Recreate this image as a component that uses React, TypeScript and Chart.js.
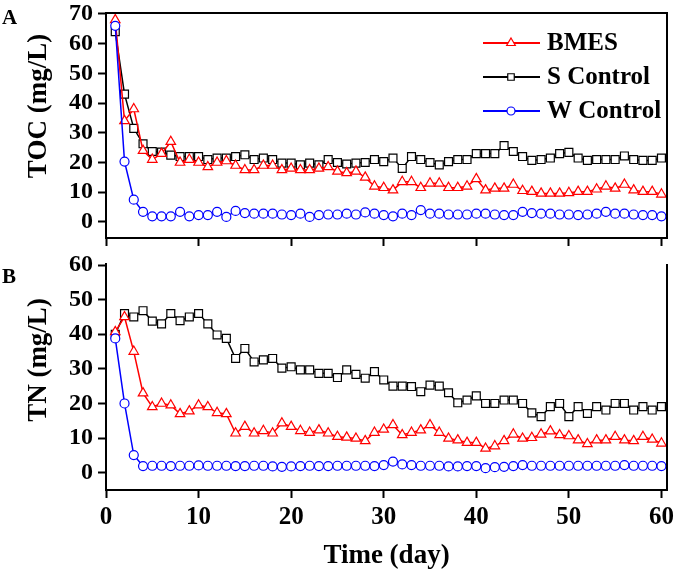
import React, { useEffect, useRef } from 'react';
import { Chart, registerables } from 'chart.js';

Chart.register(...registerables);

const days = [1, 2, 3, 4, 5, 6, 7, 8, 9, 10, 11, 12, 13, 14, 15, 16, 17, 18, 19, 20, 21, 22, 23, 24, 25, 26, 27, 28, 29, 30, 31, 32, 33, 34, 35, 36, 37, 38, 39, 40, 41, 42, 43, 44, 45, 46, 47, 48, 49, 50, 51, 52, 53, 54, 55, 56, 57, 58, 59, 60];

const tocBMES = [68, 34, 38, 24, 21, 23, 27, 20, 21, 20, 18.5, 20, 20.5, 19, 17.5, 17.5, 19, 19, 17.5, 18, 17.5, 17.5, 18, 18.5, 17, 16.5, 17, 15, 12, 11.5, 10.7, 13.5, 13.5, 11.5, 13, 13, 11.5, 11.5, 12, 14.5, 10.7, 11.3, 11.3, 12.6, 10.5, 10.2, 9.6, 9.6, 9.6, 9.8, 10.2, 10.2, 11, 12, 11.3, 12.6, 10.7, 10.2, 10.2, 9.3];
const tocSControl = [64, 43, 31.5, 26.3, 23.7, 23.5, 22.5, 22, 22, 22, 21, 21.5, 21.5, 22, 22.6, 21, 21.5, 21, 19.8, 19.8, 19.2, 19.8, 19.2, 21, 20, 19.5, 19.8, 20, 21, 20.3, 21.5, 18, 22, 21, 20, 19.2, 20.3, 21, 21, 23, 23, 23, 25.7, 23.7, 22, 20.7, 21, 21.5, 23, 23.4, 21.5, 20.7, 21, 21, 21, 22.2, 21, 20.7, 20.7, 21.5];
const tocWControl = [66, 20.3, 7.5, 3.4, 1.9, 1.9, 1.9, 3.4, 1.9, 2.3, 2.3, 3.4, 1.7, 3.7, 3, 2.8, 2.8, 2.8, 2.5, 2.3, 2.8, 1.7, 2.3, 2.5, 2.5, 2.8, 2.5, 3.2, 2.8, 2.3, 1.9, 2.8, 2.3, 4, 2.8, 2.8, 2.5, 2.5, 2.5, 2.8, 2.8, 2.5, 2.3, 2.3, 3.4, 3, 2.8, 2.8, 2.5, 2.5, 2.3, 2.5, 2.8, 3.4, 2.8, 2.8, 2.5, 2.3, 2.3, 1.9];

const tnBMES = [40.7, 45, 35, 23, 19, 20, 19.5, 17, 17.8, 19.5, 19, 17.3, 17, 11.4, 13.3, 11.4, 12.1, 11.4, 14.3, 13.3, 12.1, 11.6, 12.3, 11.4, 10.4, 10.2, 9.9, 9.2, 11.6, 12.5, 13.8, 10.9, 11.6, 12.3, 13.8, 11.6, 9.9, 9.4, 8.7, 8.7, 7, 7.7, 9.2, 11.1, 9.9, 10.1, 11.1, 12, 10.9, 10.6, 9.4, 8.3, 9.4, 9.4, 10.4, 9.4, 9.2, 10.4, 9.6, 8.5];
const tnSControl = [40, 46, 45, 46.8, 43.8, 43, 46, 43.9, 45, 46, 43, 39.8, 38.8, 33, 35.9, 32, 32.6, 33, 30.2, 30.6, 29.7, 29.7, 28.7, 28.7, 27.5, 29.7, 28.4, 27.3, 29.2, 26.8, 25, 25, 24.9, 23.4, 25.3, 25, 23.1, 20.2, 21, 22.2, 20, 20, 21, 21, 20, 17.3, 16.2, 19.1, 20, 16.2, 19.1, 17.1, 19.1, 18.1, 20, 20, 18.1, 19.1, 18.1, 19.1];
const tnWControl = [38.8, 20, 5.1, 1.9, 2, 2, 1.9, 2, 2, 2.1, 2, 2, 2, 1.9, 1.9, 2, 2, 1.8, 1.7, 1.8, 1.9, 2, 1.9, 1.9, 2, 2, 2, 2, 1.9, 2.2, 3.2, 2.4, 2.2, 2, 2, 2, 1.8, 1.8, 1.9, 1.9, 1.3, 1.6, 1.7, 1.9, 2.2, 2, 2, 2, 2, 2, 2, 2, 2, 2, 2, 2.2, 2, 2, 2, 1.9];

const xTicks = [0, 10, 20, 30, 40, 50, 60];
const tocTicks = [0, 10, 20, 30, 40, 50, 60, 70];
const tnTicks = [0, 10, 20, 30, 40, 50, 60];

const seriesNames = ['BMES', 'S Control', 'W Control'];
const seriesColors = ['#ff0000', '#000000', '#0000ff'];
const seriesStyles = ['triangle', 'rect', 'circle'];
const seriesRadius = [5.5, 5.6, 4.5];
const seriesOrder = [1, 2, 0];

const FONT = "'Liberation Serif', 'Times New Roman', serif";

function makeDatasets(values: number[][]) {
  return values.map((vals, i) => ({
    label: seriesNames[i],
    data: days.map((d, j) => ({ x: d, y: vals[j] })),
    borderColor: seriesColors[i],
    backgroundColor: '#ffffff',
    borderWidth: 1.5,
    pointStyle: seriesStyles[i],
    pointRadius: seriesRadius[i],
    pointBorderWidth: 1.2,
    pointBorderColor: seriesColors[i],
    pointBackgroundColor: '#ffffff',
    order: seriesOrder[i],
    tension: 0,
  }));
}

function drawMarker(ctx: CanvasRenderingContext2D, style: string, x: number, y: number, r: number) {
  ctx.beginPath();
  if (style === 'triangle') {
    for (let k = 0; k < 3; k++) {
      const a = (k * 2 * Math.PI) / 3;
      const px = x + Math.sin(a) * r;
      const py = y - Math.cos(a) * r;
      if (k === 0) ctx.moveTo(px, py);
      else ctx.lineTo(px, py);
    }
    ctx.closePath();
  } else if (style === 'rect') {
    const s = r * Math.SQRT1_2;
    ctx.rect(x - s, y - s, 2 * s, 2 * s);
  } else {
    ctx.arc(x, y, r, 0, Math.PI * 2);
  }
  ctx.fill();
  ctx.stroke();
}

function overlayPlugin(cfg: { letter: string; letterY: number; yTitle: string; yTitleY: number; topBorder: boolean; legend: boolean }) {
  return {
    id: 'overlay',
    afterDraw(chart: any) {
      const ctx: CanvasRenderingContext2D = chart.ctx;
      const ca = chart.chartArea;
      ctx.save();
      ctx.strokeStyle = '#000';
      ctx.lineWidth = 2;
      ctx.beginPath();
      if (cfg.topBorder) {
        ctx.moveTo(ca.left - 1, ca.top);
        ctx.lineTo(ca.right, ca.top);
      }
      ctx.moveTo(ca.right, ca.top - (cfg.topBorder ? 1 : 0));
      ctx.lineTo(ca.right, ca.bottom);
      ctx.stroke();

      ctx.fillStyle = '#000';
      ctx.font = `bold 21px ${FONT}`;
      ctx.textAlign = 'left';
      ctx.textBaseline = 'alphabetic';
      ctx.fillText(cfg.letter, 2, cfg.letterY);

      ctx.save();
      ctx.translate(39, cfg.yTitleY);
      ctx.rotate(-Math.PI / 2);
      ctx.font = `bold 27px ${FONT}`;
      ctx.textAlign = 'center';
      ctx.textBaseline = 'middle';
      ctx.fillText(cfg.yTitle, 0, 0);
      ctx.restore();

      if (cfg.legend) {
        const rows = [43, 77, 111];
        const legendR = [5, 4.6, 4];
        seriesNames.forEach((name, i) => {
          const y = rows[i];
          ctx.strokeStyle = seriesColors[i];
          ctx.lineWidth = 1.8;
          ctx.beginPath();
          ctx.moveTo(483, y);
          ctx.lineTo(540, y);
          ctx.stroke();
          ctx.fillStyle = '#fff';
          ctx.lineWidth = 1.2;
          drawMarker(ctx, seriesStyles[i], 511, y, legendR[i]);
          ctx.fillStyle = '#000';
          ctx.font = `bold 25px ${FONT}`;
          ctx.textAlign = 'left';
          ctx.textBaseline = 'middle';
          ctx.fillText(name, 547, y + 1);
        });
      }
      ctx.restore();
    },
  };
}

function xScale(showLabels: boolean, height: number, titleText: string) {
  return {
    type: 'linear' as const,
    min: 0,
    max: 60.6,
    bounds: 'data' as const,
    afterBuildTicks: (s: any) => {
      s.ticks = xTicks.map((v) => ({ value: v }));
    },
    afterFit: (s: any) => {
      s.height = height;
      s.paddingLeft = 0;
      s.paddingRight = 0;
    },
    grid: { display: true, drawOnChartArea: false, drawTicks: true, tickLength: 8, tickWidth: 2, tickColor: '#000' },
    border: { display: true, color: '#000', width: 2 },
    ticks: {
      display: showLabels,
      color: '#000',
      font: { family: FONT, size: 25, weight: 'bold' as const },
      padding: 5,
      maxRotation: 0,
      autoSkip: false,
    },
    title: {
      display: titleText !== '',
      text: titleText,
      color: '#000',
      font: { family: FONT, size: 27, weight: 'bold' as const },
      padding: { top: 5, bottom: 5 },
    },
  };
}

function yScale(min: number, max: number, tickVals: number[]) {
  return {
    type: 'linear' as const,
    min,
    max,
    bounds: 'data' as const,
    afterBuildTicks: (s: any) => {
      s.ticks = tickVals.map((v) => ({ value: v }));
    },
    afterFit: (s: any) => {
      s.width = 106;
      s.paddingTop = 0;
      s.paddingBottom = 0;
    },
    grid: { display: true, drawOnChartArea: false, drawTicks: true, tickLength: 8, tickWidth: 2, tickColor: '#000' },
    border: { display: true, color: '#000', width: 2 },
    ticks: {
      color: '#000',
      font: { family: FONT, size: 24, weight: 'bold' as const },
      padding: 5,
      autoSkip: false,
    },
  };
}

export default function App() {
  const refA = useRef<HTMLCanvasElement>(null);
  const refB = useRef<HTMLCanvasElement>(null);

  useEffect(() => {
    const chartA = new Chart(refA.current as HTMLCanvasElement, {
      type: 'line',
      data: { datasets: makeDatasets([tocBMES, tocSControl, tocWControl]) as any },
      options: {
        responsive: false,
        animation: false,
        devicePixelRatio: 1,
        events: [],
        layout: { padding: { top: 13, right: 8, left: 0, bottom: 0 } },
        plugins: { legend: { display: false }, tooltip: { enabled: false } },
        scales: {
          x: xScale(false, 12, '') as any,
          y: yScale(-5.4, 70.3, tocTicks) as any,
        },
      },
      plugins: [overlayPlugin({ letter: 'A', letterY: 24, yTitle: 'TOC (mg/L)', yTitleY: 106, topBorder: true, legend: true })],
    });

    const chartB = new Chart(refB.current as HTMLCanvasElement, {
      type: 'line',
      data: { datasets: makeDatasets([tnBMES, tnSControl, tnWControl]) as any },
      options: {
        responsive: false,
        animation: false,
        devicePixelRatio: 1,
        events: [],
        layout: { padding: { top: 14, right: 8, left: 0, bottom: 0 } },
        plugins: { legend: { display: false }, tooltip: { enabled: false } },
        scales: {
          x: xScale(true, 87, 'Time (day)') as any,
          y: yScale(-5.0, 60.3, tnTicks) as any,
        },
      },
      plugins: [overlayPlugin({ letter: 'B', letterY: 33, yTitle: 'TN (mg/L)', yTitleY: 110, topBorder: false, legend: false })],
    });

    return () => {
      chartA.destroy();
      chartB.destroy();
    };
  }, []);

  return (
    <div style={{ position: 'absolute', left: 0, top: 0, width: 675, height: 577, background: '#ffffff' }}>
      <canvas ref={refA} width={675} height={250} style={{ position: 'absolute', left: 0, top: 0, width: 675, height: 250 }} />
      <canvas ref={refB} width={675} height={327} style={{ position: 'absolute', left: 0, top: 250, width: 675, height: 327 }} />
    </div>
  );
}
